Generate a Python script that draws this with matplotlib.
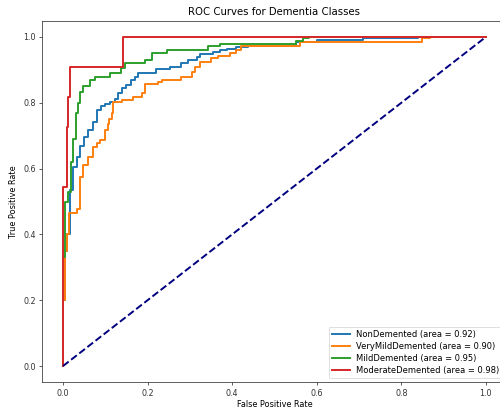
import matplotlib
matplotlib.use("Agg")
import matplotlib.pyplot as plt

# Step points (fpr where the curve rises, tpr reached)
classes = ["NonDemented", "VeryMildDemented", "MildDemented", "ModerateDemented"]
aucs = [0.92, 0.90, 0.95, 0.98]
colors = ["#1f77b4", "#ff7f0e", "#2ca02c", "#d62728"]

non_fpr = [0.0, 0.004, 0.010, 0.016, 0.024, 0.032, 0.040, 0.050, 0.060, 0.072, 0.080, 0.091, 0.099,
           0.111, 0.123, 0.130, 0.139, 0.150, 0.162, 0.170, 0.178, 0.221, 0.253, 0.280, 0.296, 0.316,
           0.324, 0.355, 0.371, 0.387, 0.410, 0.438, 0.552, 0.600, 0.710, 0.840, 1.0]
non_tpr = [0.20, 0.35, 0.40, 0.535, 0.606, 0.636, 0.670, 0.697, 0.717, 0.742, 0.778, 0.790, 0.795,
           0.803, 0.812, 0.829, 0.844, 0.854, 0.869, 0.879, 0.890, 0.902, 0.910, 0.920, 0.930, 0.940,
           0.948, 0.955, 0.960, 0.965, 0.970, 0.974, 0.985, 0.991, 0.996, 1.0, 1.0]

vmd_fpr = [0.0, 0.005, 0.009, 0.014, 0.032, 0.040, 0.048, 0.060, 0.072, 0.080, 0.087, 0.099, 0.106,
           0.109, 0.115, 0.119, 0.139, 0.166, 0.186, 0.194, 0.225, 0.233, 0.280, 0.304, 0.312, 0.324,
           0.350, 0.367, 0.395, 0.410, 0.422, 0.560, 0.848, 0.868, 1.0]
vmd_tpr = [0.20, 0.35, 0.40, 0.465, 0.477, 0.575, 0.611, 0.636, 0.667, 0.677, 0.687, 0.717, 0.737,
           0.750, 0.768, 0.803, 0.808, 0.818, 0.829, 0.857, 0.864, 0.869, 0.879, 0.894, 0.910, 0.925,
           0.935, 0.942, 0.950, 0.960, 0.973, 0.986, 0.996, 1.0, 1.0]

mild_fpr = [0.0, 0.005, 0.011, 0.019, 0.024, 0.030, 0.035, 0.040, 0.048, 0.064, 0.076, 0.111, 0.137,
            0.147, 0.194, 0.210, 0.245, 0.343, 0.371, 0.552, 0.568, 0.582, 1.0]
mild_tpr = [0.33, 0.50, 0.53, 0.62, 0.69, 0.77, 0.80, 0.833, 0.85, 0.87, 0.879, 0.89, 0.905,
            0.92, 0.93, 0.95, 0.96, 0.973, 0.98, 0.989, 0.996, 1.0, 1.0]

mod_fpr = [0.0, 0.010, 0.0125, 0.0165, 0.141, 1.0]
mod_tpr = [0.545, 0.727, 0.818, 0.909, 1.0, 1.0]

steps = [(non_fpr, non_tpr), (vmd_fpr, vmd_tpr), (mild_fpr, mild_tpr), (mod_fpr, mod_tpr)]


def corners(xs, ys):
    fx, fy = [0.0], [0.0]
    prev_y = 0.0
    for x, y in zip(xs, ys):
        fx += [x, x]
        fy += [prev_y, y]
        prev_y = y
    return fx, fy


fig = plt.figure(figsize=(5.0, 4.09), dpi=100)
ax = fig.add_axes([0.0837, 0.0648, 0.9303, 0.885])

for name, auc, col, (xs, ys) in zip(classes, aucs, colors, steps):
    fx, fy = corners(xs, ys)
    ax.plot(fx, fy, color=col, lw=1.4, label=f"{name} (area = {auc:.2f})")

ax.plot([0, 1], [0, 1], color="navy", lw=1.4, linestyle="--")

ax.set_xlim(-0.05, 1.05)
ax.set_ylim(-0.05, 1.05)
ticks = [0.0, 0.2, 0.4, 0.6, 0.8, 1.0]
ax.set_xticks(ticks)
ax.set_yticks(ticks)
ax.tick_params(labelsize=5.8, length=2.2, width=0.55, pad=2.2, colors="#333333")
for s in ax.spines.values():
    s.set_linewidth(0.55)
    s.set_color("#333333")
ax.set_xlabel("False Positive Rate", fontsize=5.9, labelpad=1.8)
ax.set_ylabel("True Positive Rate", fontsize=5.9, labelpad=3.5)
ax.set_title("ROC Curves for Dementia Classes", fontsize=7.3, pad=4)
leg = ax.legend(loc="lower right", fontsize=6.0, handlelength=2.1, borderpad=0.4,
                labelspacing=0.35, borderaxespad=0.5)
leg.get_frame().set_linewidth(0.55)

fig.savefig("out.png", dpi=100)
